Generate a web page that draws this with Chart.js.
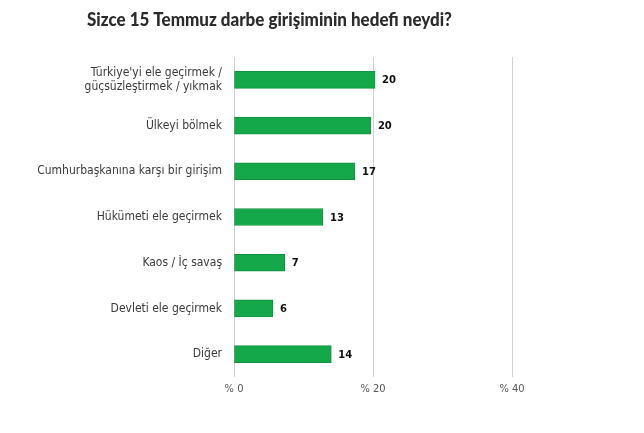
<!DOCTYPE html>
<html><head><meta charset="utf-8">
<script src="https://cdn.jsdelivr.net/npm/chart.js@4"></script>
<style>html,body{margin:0;padding:0;background:#fff}#wrap{width:644px;height:433px}</style>
</head><body><div id="wrap"><canvas id="c"></canvas></div>
<script>
const titleText = "Sizce 15 Temmuz darbe girişiminin hedefi neydi?";
const categories = [
  ["Türkiye'yi ele geçirmek /", "güçsüzleştirmek / yıkmak"],
  "Ülkeyi bölmek",
  "Cumhurbaşkanına karşı bir girişim",
  "Hükümeti ele geçirmek",
  "Kaos / İç savaş",
  "Devleti ele geçirmek",
  "Diğer"
];
const values = [20.3, 19.7, 17.4, 12.8, 7.3, 5.6, 14.0];
const valueLabels = ["20", "20", "17", "13", "7", "6", "14"];
const tickValues = [0, 20, 40];
const tickLabels = ["% 0", "% 20", "% 40"];

const valueLabelPlugin = {
  id: 'valueLabels',
  afterDatasetsDraw(chart) {
    const ctx = chart.ctx;
    const meta = chart.getDatasetMeta(0);
    ctx.save();
    ctx.font = 'bold 10px "DejaVu Sans", sans-serif';
    ctx.fillStyle = '#111';
    ctx.textAlign = 'left';
    ctx.textBaseline = 'middle';
    meta.data.forEach((bar, i) => {
      ctx.fillText(valueLabels[i], bar.x + 7, bar.y + 1);
    });
    ctx.restore();
  }
};

const titlePlugin = {
  id: 'leftTitle',
  afterDraw(chart) {
    const ctx = chart.ctx;
    ctx.save();
    ctx.font = '900 18px Lato, "DejaVu Sans", sans-serif';
    ctx.fillStyle = '#2b2b2b';
    ctx.textAlign = 'left';
    ctx.textBaseline = 'alphabetic';
    const w = ctx.measureText(titleText).width;
    ctx.translate(87, 26);
    ctx.scale(365 / w, 1);
    ctx.fillText(titleText, 0, 0);
    ctx.restore();
  }
};

new Chart(document.getElementById('c'), {
  type: 'bar',
  data: {
    labels: categories,
    datasets: [{
      data: values,
      backgroundColor: '#14a84a',
      borderColor: '#109340',
      borderWidth: 1,
      borderSkipped: false,
      barThickness: 17
    }]
  },
  options: {
    indexAxis: 'y',
    responsive: true,
    maintainAspectRatio: false,
    animation: false,
    layout: { padding: { left: 0, right: 132, top: 57, bottom: 0 } },
    plugins: {
      legend: { display: false },
      tooltip: { enabled: false },
      title: { display: false }
    },
    scales: {
      x: {
        min: 0, max: 40,
        afterBuildTicks(scale) { scale.ticks = tickValues.map(v => ({ value: v })); },
        afterFit(scale) { scale.height = 56; },
        grid: { color: '#d0d0d0', drawTicks: false, lineWidth: 1 },
        border: { display: false },
        ticks: {
          padding: 6,
          color: '#555',
          font: { family: '"DejaVu Sans Condensed", sans-serif', size: 11 },
          callback(v) { const i = tickValues.indexOf(v); return i >= 0 ? tickLabels[i] : ''; }
        }
      },
      y: {
        afterFit(scale) { scale.width = 234; },
        grid: { display: false, drawTicks: false },
        border: { display: false },
        ticks: {
          padding: 12,
          color: '#3a3a3a',
          font: { family: '"DejaVu Sans Condensed", sans-serif', size: 12 }
        }
      }
    }
  },
  plugins: [valueLabelPlugin, titlePlugin]
});
</script>
</body></html>
